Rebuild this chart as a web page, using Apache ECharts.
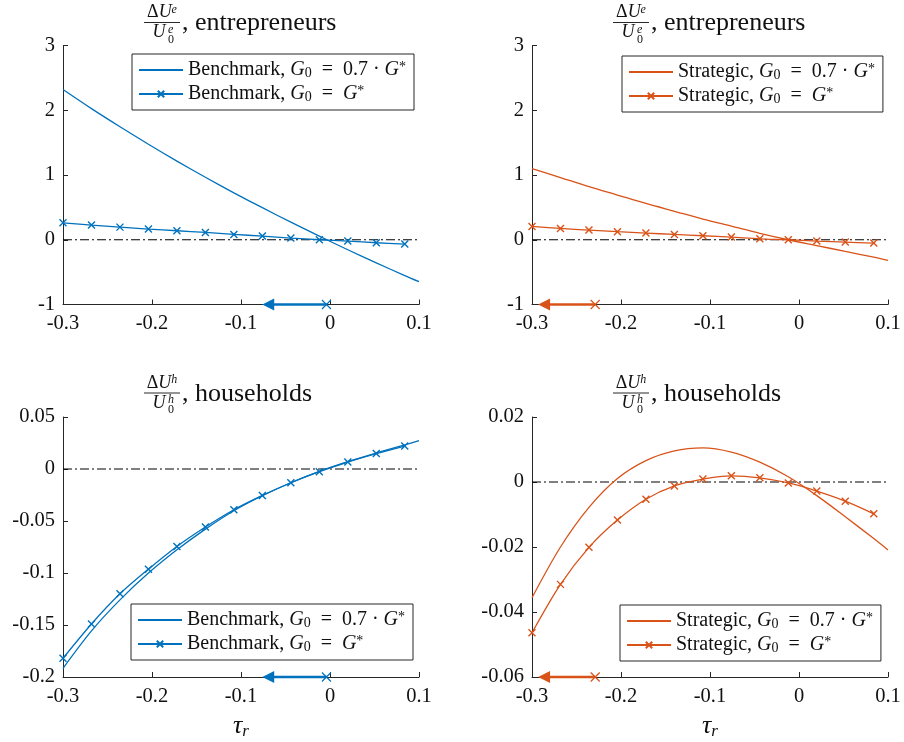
<!DOCTYPE html>
<html>
<head>
<meta charset="utf-8">
<script src="https://cdn.jsdelivr.net/npm/echarts@6/dist/echarts.min.js"></script>
<style>
  html, body { margin: 0; padding: 0; background: #fff; }
  #chart { width: 904px; height: 742px; }
</style>
</head>
<body>
<div id="chart"></div>
<script>
// ---- data ----
// tau_r grid of the marked series (every 10th point of the fine grid)
const tauMarks = [-0.3, -0.268, -0.236, -0.204, -0.172, -0.14, -0.108, -0.076, -0.044, -0.012, 0.02, 0.052, 0.084];
// tau_r grid of the plain lines
const tauLine = [-0.3, -0.268, -0.236, -0.204, -0.172, -0.14, -0.108, -0.076, -0.044, -0.012, 0.02, 0.052, 0.084, 0.1];

// entrepreneurs, dU/U0
const entBench07 = [2.32, 2.025, 1.745, 1.475, 1.215, 0.965, 0.725, 0.495, 0.272, 0.056, -0.154, -0.357, -0.554, -0.648];
const entBench1  = [0.262, 0.226, 0.195, 0.165, 0.139, 0.113, 0.082, 0.057, 0.026, 0.0, -0.021, -0.046, -0.067];
const entStrat07 = [1.10, 0.96, 0.82, 0.69, 0.56, 0.44, 0.32, 0.21, 0.10, 0.0, -0.09, -0.18, -0.27, -0.32];
const entStrat1  = [0.206, 0.175, 0.149, 0.124, 0.103, 0.082, 0.062, 0.041, 0.015, 0.0, -0.021, -0.036, -0.052];

// households, dU/U0
const hhBench07 = [-0.1916, -0.1556, -0.1258, -0.1001, -0.0777, -0.0578, -0.0401, -0.0257, -0.0132, -0.0022, 0.0071, 0.0154, 0.0233, 0.0272];
const hhBench1  = [-0.182, -0.149, -0.120, -0.0963, -0.0745, -0.0558, -0.0392, -0.0254, -0.0132, -0.0026, 0.0067, 0.0148, 0.0221];
const hhStrat07 = [-0.0356, -0.0200, -0.0078, 0.0011, 0.0066, 0.0096, 0.0105, 0.0092, 0.0061, 0.0016, -0.0042, -0.0107, -0.0174, -0.0209];
const hhStrat1  = [-0.0464, -0.0315, -0.0201, -0.0117, -0.0053, -0.0012, 0.0009, 0.0019, 0.0013, -0.0003, -0.0028, -0.0059, -0.0098];

// optimal-tau shift arrows: [start, head]
const benchArrowX = [-0.004, -0.069];
const stratArrowX = [-0.229, -0.286];

// axes
const xRange = [-0.3, 0.1];
const yEnt = { min: -1, max: 3, interval: 1 };
const yHhBench = { min: -0.2, max: 0.05, interval: 0.05 };
const yHhStrat = { min: -0.06, max: 0.02, interval: 0.02 };

// legend entries
const NAME_B07 = 'Benchmark, G0 = 0.7·G*';
const NAME_B1  = 'Benchmark, G0 = G*';
const NAME_S07 = 'Strategic, G0 = 0.7·G*';
const NAME_S1  = 'Strategic, G0 = G*';

// ---- style ----
const BLUE = '#0072BD';
const ORANGE = '#D95319';
const FONT = 'Liberation Serif';
const AXIS = '#262626';
const TXT = '#111';
const CROSS = 'path://M0,0L10,10M10,0L0,10';

const legendRich = {
  [NAME_B07]: '{n|Benchmark, }{i|G}{s|0}{n|  =  0.7 · }{i|G}{p|*}',
  [NAME_B1]:  '{n|Benchmark, }{i|G}{s|0}{n|  =  }{i|G}{p|*}',
  [NAME_S07]: '{n|Strategic, }{i|G}{s|0}{n|  =  0.7 · }{i|G}{p|*}',
  [NAME_S1]:  '{n|Strategic, }{i|G}{s|0}{n|  =  }{i|G}{p|*}'
};

const pairs = (xs, ys) => ys.map((y, i) => [xs[i], y]);

const grids = [
  { left: 63, top: 45.5, width: 356, height: 259 },
  { left: 532, top: 45.5, width: 356, height: 259 },
  { left: 63, top: 417, width: 356, height: 260 },
  { left: 532, top: 417, width: 356, height: 260 }
];

function xAxis(gi, withName) {
  const ax = {
    type: 'value', gridIndex: gi, min: xRange[0], max: xRange[1], interval: 0.1,
    axisLine: { show: true, onZero: false, lineStyle: { color: AXIS, width: 1 } },
    axisTick: { show: true, inside: true, length: 5, lineStyle: { color: AXIS } },
    splitLine: { show: false },
    axisLabel: { color: TXT, fontFamily: FONT, fontSize: 20.5, margin: 9 }
  };
  if (withName) {
    ax.name = '{t|τ}{s|r}';
    ax.nameLocation = 'middle';
    ax.nameGap = 36;
    ax.nameTextStyle = {
      rich: {
        t: { fontFamily: FONT, fontStyle: 'italic', fontSize: 26, color: TXT },
        s: { fontFamily: FONT, fontStyle: 'italic', fontSize: 17, color: TXT, verticalAlign: 'bottom', padding: [10, 0, 0, 0] }
      }
    };
  }
  return ax;
}

function yAxis(gi, r) {
  return {
    type: 'value', gridIndex: gi, min: r.min, max: r.max, interval: r.interval,
    axisLine: { show: true, onZero: false, lineStyle: { color: AXIS, width: 1 } },
    axisTick: { show: true, inside: true, length: 5, lineStyle: { color: AXIS } },
    splitLine: { show: false },
    axisLabel: { color: TXT, fontFamily: FONT, fontSize: 20.5, margin: 8 }
  };
}

function plainLine(gi, name, xs, ys, color) {
  return {
    type: 'line', name, xAxisIndex: gi, yAxisIndex: gi, data: pairs(xs, ys),
    smooth: 0.3, symbol: 'none', color,
    lineStyle: { color, width: 1.3 }, z: 3
  };
}

function markedLine(gi, name, xs, ys, color) {
  return {
    type: 'line', name, xAxisIndex: gi, yAxisIndex: gi, data: pairs(xs, ys),
    smooth: 0.3, symbol: CROSS, symbolSize: 7, showSymbol: true, color,
    itemStyle: { color, borderColor: color, borderWidth: 1.4 },
    lineStyle: { color, width: 1.3 }, z: 4
  };
}

function zeroLine(gi) {
  return {
    type: 'line', xAxisIndex: gi, yAxisIndex: gi, data: xRange.map(x => [x, 0]),
    symbol: 'none', silent: true,
    lineStyle: { color: '#000', width: 1, type: [9, 3, 2, 3] }, z: 2
  };
}

function arrow(gi, xs, yBase, color) {
  return {
    type: 'line', xAxisIndex: gi, yAxisIndex: gi, clip: false, silent: true, color,
    data: [
      { value: [xs[0], yBase], symbol: CROSS, symbolSize: 9 },
      { value: [xs[1], yBase], symbol: 'triangle', symbolSize: [10, 10], symbolRotate: 90 }
    ],
    showSymbol: true,
    itemStyle: { color, borderColor: color, borderWidth: 1.2 },
    lineStyle: { color, width: 2.6 }, z: 6
  };
}

function legend(plainName, markName, left, top) {
  return {
    // the plain line has no marker: hide the legend symbol, keep its line
    data: [{ name: plainName, itemStyle: { opacity: 0 } }, markName],
    orient: 'vertical', left, top,
    backgroundColor: '#fff', borderColor: AXIS, borderWidth: 1,
    padding: [6, 8, 6, 6], itemWidth: 44, itemHeight: 8, itemGap: 4,
    selectedMode: false,
    formatter: n => legendRich[n],
    textStyle: {
      color: TXT, lineHeight: 20,
      rich: {
        n: { fontFamily: FONT, fontSize: 20, color: TXT },
        i: { fontFamily: FONT, fontSize: 20, fontStyle: 'italic', color: TXT },
        s: { fontFamily: FONT, fontSize: 14, color: TXT, verticalAlign: 'bottom' },
        p: { fontFamily: FONT, fontSize: 14, color: TXT, verticalAlign: 'top' }
      }
    }
  };
}

// fraction title  ΔU^k / U_0^k , word
function fracTitle(cx, barY, sup, word) {
  const common = { fill: TXT, fontFamily: FONT };
  return [
    { type: 'text', x: cx, y: barY - 1, style: Object.assign({}, common, {
        text: '{d|Δ}{u|U}{p|' + sup + '}',
        rich: {
          d: { fontFamily: FONT, fontSize: 18, color: TXT },
          u: { fontFamily: FONT, fontSize: 18, fontStyle: 'italic', color: TXT },
          p: { fontFamily: FONT, fontSize: 12, fontStyle: 'italic', color: TXT, verticalAlign: 'top' }
        },
        align: 'center', textAlign: 'center', verticalAlign: 'bottom', textVerticalAlign: 'bottom' }) },
    { type: 'line', shape: { x1: cx - 18, y1: barY, x2: cx + 18, y2: barY }, style: { stroke: TXT, lineWidth: 0.9 } },
    { type: 'text', x: cx - 3, y: barY + 1, style: Object.assign({}, common, {
        text: 'U', fontSize: 18, fontStyle: 'italic',
        align: 'center', textAlign: 'center', verticalAlign: 'top', textVerticalAlign: 'top' }) },
    { type: 'text', x: cx + 6, y: barY + 1, style: Object.assign({}, common, {
        text: sup, fontSize: 12, fontStyle: 'italic',
        align: 'left', textAlign: 'left', verticalAlign: 'top', textVerticalAlign: 'top' }) },
    { type: 'text', x: cx + 6, y: barY + 11, style: Object.assign({}, common, {
        text: '0', fontSize: 12,
        align: 'left', textAlign: 'left', verticalAlign: 'top', textVerticalAlign: 'top' }) },
    { type: 'text', x: cx + 20, y: barY + 1, style: Object.assign({}, common, {
        text: ', ' + word, fontSize: 26,
        align: 'left', textAlign: 'left', verticalAlign: 'middle', textVerticalAlign: 'middle' }) }
  ];
}

const chart = echarts.init(document.getElementById('chart'), null, { renderer: 'canvas' });

chart.setOption({
  animation: false,
  backgroundColor: '#fff',
  grid: grids,
  xAxis: [xAxis(0, false), xAxis(1, false), xAxis(2, true), xAxis(3, true)],
  yAxis: [yAxis(0, yEnt), yAxis(1, yEnt), yAxis(2, yHhBench), yAxis(3, yHhStrat)],
  legend: [
    legend(NAME_B07, NAME_B1, 132, 54),
    legend(NAME_S07, NAME_S1, 622, 56),
    legend(NAME_B07, NAME_B1, 131, 604),
    legend(NAME_S07, NAME_S1, 620, 605)
  ],
  series: [
    zeroLine(0), zeroLine(1), zeroLine(2), zeroLine(3),
    plainLine(0, NAME_B07, tauLine, entBench07, BLUE),
    markedLine(0, NAME_B1, tauMarks, entBench1, BLUE),
    plainLine(1, NAME_S07, tauLine, entStrat07, ORANGE),
    markedLine(1, NAME_S1, tauMarks, entStrat1, ORANGE),
    plainLine(2, NAME_B07, tauLine, hhBench07, BLUE),
    markedLine(2, NAME_B1, tauMarks, hhBench1, BLUE),
    plainLine(3, NAME_S07, tauLine, hhStrat07, ORANGE),
    markedLine(3, NAME_S1, tauMarks, hhStrat1, ORANGE),
    arrow(0, benchArrowX, yEnt.min, BLUE),
    arrow(1, stratArrowX, yEnt.min, ORANGE),
    arrow(2, benchArrowX, yHhBench.min, BLUE),
    arrow(3, stratArrowX, yHhStrat.min, ORANGE)
  ],
  graphic: [].concat(
    fracTitle(162, 22.5, 'e', 'entrepreneurs'),
    fracTitle(631, 22.5, 'e', 'entrepreneurs'),
    fracTitle(162, 393, 'h', 'households'),
    fracTitle(631, 393, 'h', 'households')
  )
});
</script>
</body>
</html>
